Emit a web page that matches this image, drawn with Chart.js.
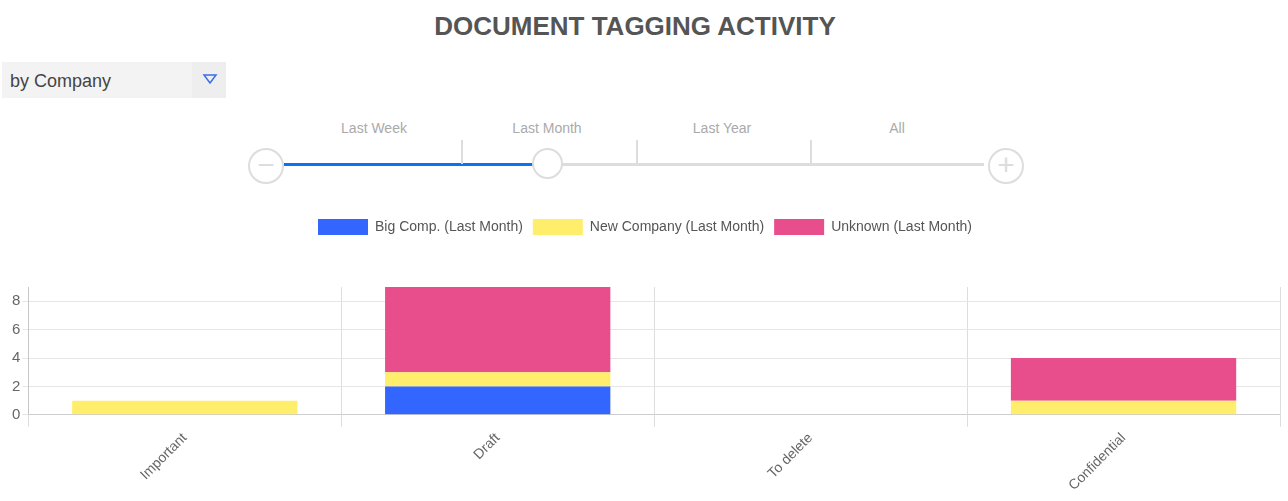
<!DOCTYPE html>
<html><head><meta charset="utf-8">
<script src="https://cdn.jsdelivr.net/npm/chart.js@4"></script>
<style>
body{margin:0;width:1288px;height:501px;overflow:hidden;font-family:"Liberation Sans",Arial,sans-serif;background:#fff;position:relative}
h1{position:absolute;top:11px;left:0;width:1270px;text-align:center;margin:0;font-size:26px;font-weight:bold;color:#555}
.sel{position:absolute;left:2px;top:62px;width:224px;height:36px;background:#f3f3f3;font-size:18px;color:#444;line-height:38px}
.sel span{padding-left:8px}
.sel .arr{position:absolute;left:190px;top:0;width:34px;height:36px;background:#eee}
.lbl{position:absolute;top:120px;font-size:14px;color:#aaa;transform:translateX(-50%)}
.track{position:absolute;top:163px;height:3px;background:#ddd}
.tick{position:absolute;top:140px;width:2px;height:24px;background:#ddd}
.circ{position:absolute;border:2px solid #ddd;border-radius:50%;background:#fff;color:#ddd;text-align:center;box-sizing:border-box}
#c{position:absolute;left:0;top:209px}
</style></head><body>
<h1>DOCUMENT TAGGING ACTIVITY</h1>
<div class="sel"><span>by Company</span><div class="arr"><svg width="34" height="36"><polygon points="12,13 24,13 18,21" fill="none" stroke="#3a6fe8" stroke-width="1.5"/></svg></div></div>
<div class="lbl" style="left:374px">Last Week</div>
<div class="lbl" style="left:547px">Last Month</div>
<div class="lbl" style="left:722px">Last Year</div>
<div class="lbl" style="left:897px">All</div>
<div class="track" style="left:284px;width:700px"></div>
<div class="track" style="left:284px;width:250px;background:#0a74f0"></div>
<div class="tick" style="left:461px"></div>
<div class="tick" style="left:636px"></div>
<div class="tick" style="left:810px"></div>
<div class="circ" style="left:248px;top:148px;width:36px;height:36px;font-size:30px;line-height:30px">−</div>
<div class="circ" style="left:988px;top:148px;width:36px;height:36px;font-size:30px;line-height:30px">+</div>
<div class="circ" style="left:532px;top:148px;width:31px;height:31px"></div>
<canvas id="c" width="1288" height="292"></canvas>
<script>
const categories=["Important","Draft","To delete","Confidential"];
const bigComp=[0,2,0,0];
const newCompany=[1,1,0,1];
const unknown=[0,6,0,3];
const yMax=9;
const legendGap={id:'legendGap',beforeInit(chart){const orig=chart.legend.fit;chart.legend.fit=function(){orig.bind(chart.legend)();this.height+=42;};}};
new Chart(document.getElementById('c'),{type:'bar',
data:{labels:categories,datasets:[
{label:'Big Comp. (Last Month)',data:bigComp,backgroundColor:'#3366ff'},
{label:'New Company (Last Month)',data:newCompany,backgroundColor:'#ffee6b'},
{label:'Unknown (Last Month)',data:unknown,backgroundColor:'#e94e8c'}]},
plugins:[legendGap],
options:{responsive:false,animation:false,
layout:{padding:{left:10,right:8,bottom:4}},
plugins:{legend:{labels:{boxWidth:50,boxHeight:16,font:{size:14,family:'Liberation Sans'},color:'#555',padding:10}},tooltip:{enabled:false}},
scales:{x:{stacked:true,grid:{color:'#ddd',tickLength:12},ticks:{maxRotation:45,minRotation:45,font:{size:14},color:'#666'}},
y:{stacked:true,min:0,max:yMax,ticks:{stepSize:1,font:{size:15},color:'#666',padding:2},grid:{color:'#e6e6e6',tickLength:6}}}}});
</script></body></html>
